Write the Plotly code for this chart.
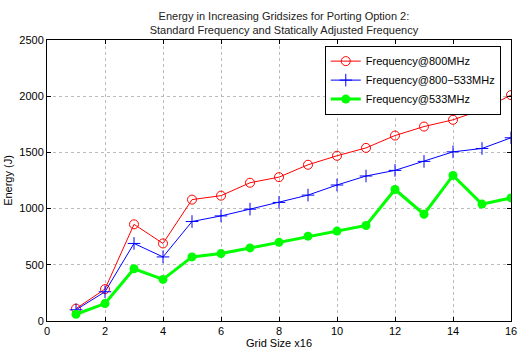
import plotly.graph_objects as go

grid_sizes = list(range(1, 17))
freq_800 = [110, 284, 860, 690, 1080, 1115, 1230, 1280, 1390, 1470, 1540, 1650, 1730, 1790, 1880, 2010]
freq_800_533 = [100, 260, 690, 570, 885, 935, 995, 1055, 1120, 1210, 1290, 1340, 1420, 1505, 1535, 1630]
freq_533 = [60, 155, 465, 370, 570, 600, 650, 700, 755, 800, 850, 1170, 950, 1295, 1040, 1095]

font_family = "Liberation Sans, Arial, sans-serif"

fig = go.Figure()
fig.add_trace(go.Scatter(x=grid_sizes, y=freq_800, mode="lines+markers", name="Frequency@800MHz",
                         line=dict(color="#ff0000", width=1),
                         marker=dict(symbol="circle-open", size=9, color="#ff0000", line=dict(width=1))))
fig.add_trace(go.Scatter(x=grid_sizes, y=freq_800_533, mode="lines+markers", name="Frequency@800\u2212533MHz",
                         line=dict(color="#0000ff", width=1),
                         marker=dict(symbol="cross-thin-open", size=9, color="#0000ff", line=dict(width=1, color="#0000ff"))))
fig.add_trace(go.Scatter(x=grid_sizes, y=freq_533, mode="lines+markers", name="Frequency@533MHz",
                         line=dict(color="#00ff00", width=3),
                         marker=dict(symbol="circle", size=9, color="#00ff00")))

axis_common = dict(showline=True, linecolor="black", linewidth=1, mirror="ticks",
                   ticks="inside", ticklen=4, tickcolor="black",
                   showgrid=True, gridcolor="#bbbbbb", griddash="dot", gridwidth=1,
                   zeroline=False, ticklabeloverflow="allow",
                   tickfont=dict(size=11, color="black", family=font_family))

fig.update_xaxes(range=[0, 16], dtick=2, tick0=0,
                 title=dict(text="Grid Size x16", font=dict(size=11, color="black", family=font_family), standoff=2),
                 **axis_common)
fig.update_yaxes(range=[0, 2500], dtick=500, tick0=0,
                 title=dict(text="Energy (J)", font=dict(size=11, color="black", family=font_family), standoff=4),
                 **axis_common)

fig.update_layout(
    width=521, height=351,
    margin=dict(l=47, r=4, t=40, b=29),
    paper_bgcolor="white", plot_bgcolor="white",
    font=dict(family=font_family, size=11, color="black"),
    title=dict(text="Energy in Increasing Gridsizes for Porting Option 2:<br>Standard Frequency and Statically Adjusted Frequency",
               x=0.545, xanchor="center", y=0.943, yanchor="middle",
               font=dict(size=11, color="#222222", family=font_family)),
    legend=dict(x=0.978, xanchor="right", y=0.98, yanchor="top",
                bordercolor="black", borderwidth=1, bgcolor="white",
                font=dict(size=11, color="black", family=font_family),
                tracegroupgap=0, itemwidth=30),
    showlegend=True,
)

fig.write_html("out.html", config={"displayModeBar": False},
               post_script="document.body.style.margin='0';document.body.style.padding='0';")
